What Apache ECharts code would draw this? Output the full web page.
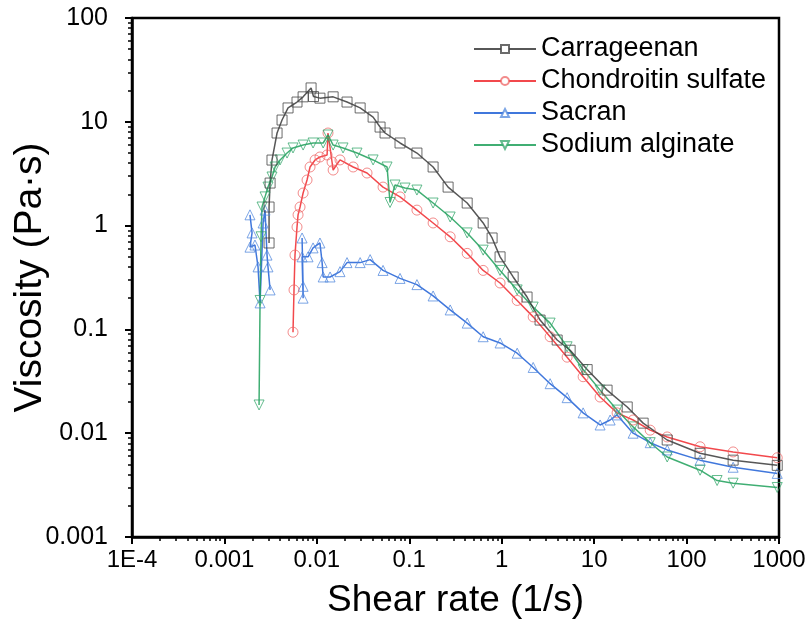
<!DOCTYPE html>
<html>
<head>
<meta charset="utf-8">
<script src="https://cdn.jsdelivr.net/npm/echarts@6/dist/echarts.min.js"></script>
<style>
  html, body { margin: 0; padding: 0; background: #fff; }
  #main { width: 809px; height: 623px; }
</style>
</head>
<body>
<div id="main"></div>
<script>
    // values (shear rate in 1/s, viscosity in Pa·s)
    var carrageenanX = [0.00304, 0.00304, 0.00312, 0.00327, 0.00371, 0.0042, 0.00488, 0.0061, 0.0071, 0.00866, 0.0092, 0.0108, 0.015, 0.0212, 0.0294, 0.0406, 0.0483, 0.0547, 0.0794, 0.121, 0.181, 0.263, 0.423, 0.63, 0.787, 0.96, 1.33, 1.88, 2.6, 3.98, 5.5, 8.4, 13.8, 22.8, 33.9, 61.7, 140, 319, 957];
    var carrageenanY = [0.68, 1.51, 2.57, 4.28, 7.8, 10.4, 13.6, 15.5, 17.4, 21.2, 17.5, 16.9, 17.4, 15.5, 13.6, 11.1, 8.9, 7.8, 6.25, 5.0, 3.67, 2.35, 1.65, 1.06, 0.76, 0.50, 0.32, 0.205, 0.123, 0.079, 0.063, 0.041, 0.026, 0.0179, 0.0125, 0.0086, 0.0064, 0.0055, 0.0049];

    var chondroitinX = [0.00552, 0.00566, 0.0058, 0.0061, 0.00626, 0.00658, 0.0071, 0.00783, 0.00844, 0.00957, 0.0108, 0.0129, 0.0132, 0.0146, 0.015, 0.0178, 0.0247, 0.0349, 0.052, 0.0794, 0.121, 0.181, 0.277, 0.423, 0.63, 0.96, 1.47, 2.19, 3.34, 5.1, 7.6, 11.6, 17.7, 26.4, 40.4, 61.7, 140, 319, 957];
    var chondroitinY = [0.094, 0.24, 0.52, 0.97, 1.27, 1.51, 2.06, 2.75, 3.67, 4.29, 4.58, 4.79, 7.8, 4.1, 3.43, 4.29, 3.67, 3.21, 2.35, 1.89, 1.41, 1.06, 0.78, 0.54, 0.37, 0.28, 0.19, 0.132, 0.085, 0.054, 0.035, 0.0223, 0.0157, 0.0134, 0.0107, 0.0092, 0.0074, 0.0066, 0.0058];

    // '-' marks the break between the two start-up clusters
    var sacranX = [0.00189, 0.00199, 0.00189, 0.00214, 0.00231, 0.00243, 0.00262, 0.00275, 0.00289, 0.00296, 0.00312, 0.005, 0.00692, 0.0071, 0.0071, 0.00692, 0.00803, 0.0091, 0.0108, 0.0114, 0.0117, 0.0139, 0.0178, 0.0212, 0.0294, 0.0377, 0.052, 0.0794, 0.121, 0.181, 0.277, 0.423, 0.63, 0.96, 1.47, 2.19, 3.34, 5.1, 7.6, 11.6, 14.9, 17.7, 26.4, 40.4, 61.7, 140, 319, 957];
    var sacranY = [1.27, 0.85, 0.62, 0.65, 0.40, 0.18, 1.06, 1.41, 0.52, 0.40, 0.24, '-', 0.76, 0.26, 0.20, 0.50, 0.50, 0.61, 0.68, 0.44, 0.32, 0.32, 0.36, 0.44, 0.44, 0.47, 0.37, 0.31, 0.27, 0.21, 0.154, 0.115, 0.085, 0.074, 0.059, 0.043, 0.030, 0.022, 0.0157, 0.012, 0.0134, 0.015, 0.010, 0.0081, 0.0069, 0.0055, 0.0047, 0.0041];

    var alginateX = [0.00237, 0.00243, 0.00249, 0.00255, 0.00275, 0.00296, 0.00327, 0.00353, 0.004, 0.00476, 0.00552, 0.0071, 0.0091, 0.0117, 0.0132, 0.015, 0.0192, 0.0272, 0.0406, 0.0575, 0.0619, 0.0701, 0.090, 0.121, 0.181, 0.277, 0.423, 0.63, 0.96, 1.47, 2.19, 3.34, 5.1, 7.6, 11.6, 17.7, 26.4, 40.4, 61.7, 140, 214, 319, 957];
    var alginateY = [0.0187, 0.19, 0.78, 1.51, 1.89, 2.35, 2.94, 3.67, 4.29, 5.0, 5.6, 5.97, 6.25, 6.25, 7.46, 5.97, 5.6, 5.0, 4.29, 3.67, 1.67, 2.46, 2.3, 2.2, 1.65, 1.21, 0.85, 0.58, 0.37, 0.24, 0.164, 0.115, 0.068, 0.041, 0.026, 0.0167, 0.0115, 0.0081, 0.0059, 0.0044, 0.0035, 0.0033, 0.0030];

    var xDecades = [-4, -3, -2, -1, 0, 1, 2, 3];
    var yDecades = [-3, -2, -1, 0, 1, 2];

    function pairs(xs, ys) {
        return xs.map(function (x, i) { return [x, ys[i]]; });
    }
    function minorTicks(decades) {
        var out = [];
        for (var i = 0; i < decades.length - 1; i++) {
            for (var k = 2; k <= 9; k++) out.push(k * Math.pow(10, decades[i]));
        }
        return out;
    }
    function logLabel(v) {
        var e = Math.round(Math.log10(v));
        if (e >= 0) return String(Math.pow(10, e));
        if (e >= -3) return Math.pow(10, e).toFixed(-e);
        return '1E' + e;
    }

    var FONT = 'Liberation Sans';

    var chartDom = document.getElementById('main');
    var myChart = echarts.init(chartDom);
    var option;

    function lineSeries(name, data, symbol, lineColor, markColor, rotate) {
        return {
            name: name,
            type: 'line',
            data: data,
            symbol: symbol,
            symbolSize: 10,
            symbolRotate: rotate || 0,
            showAllSymbol: true,
            connectNulls: false,
            lineStyle: { color: lineColor, width: 1.5, opacity: 0.85 },
            itemStyle: { color: 'rgba(255,255,255,0)', borderColor: markColor, borderWidth: 1 },
            emphasis: { disabled: true }
        };
    }

    option = {
        backgroundColor: '#fff',
        animation: false,
        grid: {
            left: 132, right: 30, top: 18, bottom: 86,
            show: true, borderColor: '#000', borderWidth: 2.5,
            outerBoundsMode: 'none'
        },
        legend: {
            orient: 'vertical',
            left: 468, top: 30,
            itemWidth: 62, itemHeight: 10, itemGap: 4,
            selectedMode: false,
            itemStyle: { color: '#fff' },
            textStyle: { fontFamily: FONT, fontSize: 27, color: '#000', lineHeight: 28 },
            data: ['Carrageenan', 'Chondroitin sulfate', 'Sacran', 'Sodium alginate']
        },
        xAxis: [
            {
                type: 'log', logBase: 10, min: 1e-4, max: 1000,
                name: 'Shear rate (1/s)', nameLocation: 'middle', nameGap: 45,
                nameMoveOverlap: false,
                nameTextStyle: { fontFamily: FONT, fontSize: 37, color: '#000' },
                axisLine: { lineStyle: { color: '#000', width: 2.5 } },
                axisTick: { show: true, length: 7, lineStyle: { color: '#000', width: 2 } },
                axisLabel: { fontFamily: FONT, fontSize: 24, color: '#000', margin: 11, formatter: logLabel },
                splitLine: { show: false }
            },
            {
                type: 'log', logBase: 10, min: 1e-4, max: 1000, position: 'bottom',
                axisLine: { show: false },
                axisTick: { show: true, length: 4, customValues: minorTicks(xDecades), lineStyle: { color: '#000', width: 1.5 } },
                axisLabel: { show: false },
                splitLine: { show: false }
            }
        ],
        yAxis: [
            {
                type: 'log', logBase: 10, min: 0.001, max: 100,
                name: 'Viscosity (Pa·s)', nameLocation: 'middle', nameGap: 82,
                nameMoveOverlap: false,
                nameTextStyle: { fontFamily: FONT, fontSize: 39, color: '#000' },
                axisLine: { lineStyle: { color: '#000', width: 2.5 } },
                axisTick: { show: true, length: 7, lineStyle: { color: '#000', width: 2 } },
                axisLabel: { fontFamily: FONT, fontSize: 25, color: '#000', margin: 24, formatter: logLabel },
                splitLine: { show: false }
            },
            {
                type: 'log', logBase: 10, min: 0.001, max: 100, position: 'left',
                axisLine: { show: false },
                axisTick: { show: true, length: 4, customValues: minorTicks(yDecades), lineStyle: { color: '#000', width: 1.5 } },
                axisLabel: { show: false },
                splitLine: { show: false }
            }
        ],
        series: [
            lineSeries('Sacran', pairs(sacranX, sacranY), 'triangle', '#1f5fd6', 'rgba(80,135,220,0.75)'),
            lineSeries('Chondroitin sulfate', pairs(chondroitinX, chondroitinY), 'circle', '#f0282d', 'rgba(238,100,100,0.75)'),
            lineSeries('Sodium alginate', pairs(alginateX, alginateY), 'triangle', '#1ea05a', 'rgba(50,165,105,0.75)', 180),
            lineSeries('Carrageenan', pairs(carrageenanX, carrageenanY), 'rect', '#3a3a3a', 'rgba(70,70,70,0.8)')
        ]
    };

    option && myChart.setOption(option);
</script>
</body>
</html>
